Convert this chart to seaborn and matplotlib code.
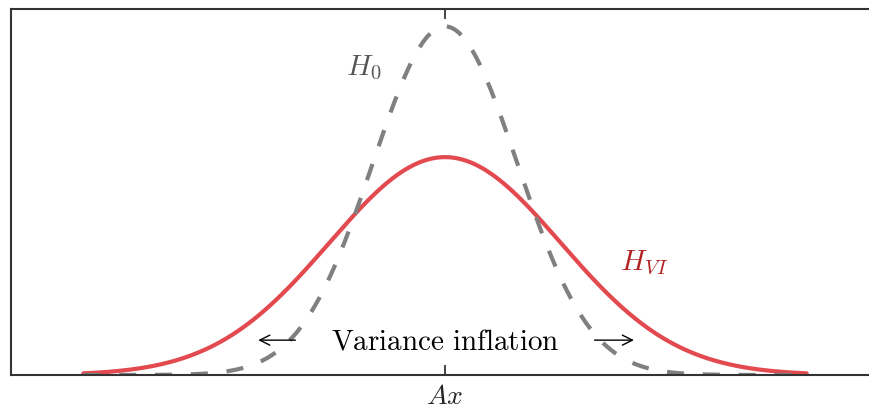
import numpy as np
import pandas as pd
import matplotlib
matplotlib.use("Agg")
import matplotlib.pyplot as plt
import seaborn as sns

# ---- data ----
series_names = ["H0", "HVI"]
series_means = [0.0, 0.0]
series_sigmas = [1.0, 1.6]
x_min, x_max = -5.0, 5.0
n_points = 400
xlim = (-6.0, 6.0)
tick_positions = [0.0]
tick_labels = [r"$Ax$"]

sns.set_theme(style="white")
plt.rcParams["mathtext.fontset"] = "cm"
plt.rcParams["font.family"] = ["DejaVu Serif"]

x = np.linspace(x_min, x_max, n_points)
frames = []
for name, mu, s in zip(series_names, series_means, series_sigmas):
    y = np.exp(-0.5 * ((x - mu) / s) ** 2) / (s * np.sqrt(2 * np.pi))
    frames.append(pd.DataFrame({"x": x, "y": y, "series": name}))
df = pd.concat(frames, ignore_index=True)

fig = plt.figure(figsize=(8.69, 4.10), dpi=100)
ax = fig.add_axes([11 / 869, 34 / 410, 868 / 869, 366 / 410])

sns.lineplot(data=df[df.series == "HVI"], x="x", y="y", color="#e34a4f",
             linewidth=3.0, ax=ax, legend=False)
sns.lineplot(data=df[df.series == "H0"], x="x", y="y", color="#808080",
             linewidth=3.0, ax=ax, legend=False)
ax.lines[-1].set_dashes([4.1, 4.5])
ax.lines[-1].set_dash_capstyle("butt")

ymax0 = df[df.series == "H0"].y.max()
ax.set_xlim(*xlim)
ax.set_ylim(0, ymax0 * 1.05)
ax.set_xlabel("")
ax.set_ylabel("")
ax.set_xticks(tick_positions)
ax.set_xticklabels(tick_labels, fontsize=20)
ax.set_yticks([])
ax.tick_params(axis="x", direction="in", top=True, bottom=True, length=7,
               width=1.2, color="#222222", pad=5)
for side in ["left", "bottom", "top"]:
    ax.spines[side].set_color("#333333")
    ax.spines[side].set_linewidth(1.5)
ax.spines["right"].set_visible(False)

fs = 21
ax.text(-1.12, ymax0 * 0.885, r"$H_0$", fontsize=fs, color="#555555",
        ha="center", va="center")
ax.text(2.75, ymax0 * 0.325, r"$H_{VI}$", fontsize=fs, color="#b22222",
        ha="center", va="center")
ax.text(0.0, ymax0 * 0.10, r"$\mathrm{Variance\ inflation}$", fontsize=fs,
        color="black", ha="center", va="center")
ax.annotate("", xy=(-2.62, ymax0 * 0.10), xytext=(-2.03, ymax0 * 0.10),
            arrowprops=dict(arrowstyle="->", color="black", lw=1.0,
                            mutation_scale=18))
ax.annotate("", xy=(2.65, ymax0 * 0.10), xytext=(2.03, ymax0 * 0.10),
            arrowprops=dict(arrowstyle="->", color="black", lw=1.0,
                            mutation_scale=18))

fig.savefig("out.png", dpi=100)
